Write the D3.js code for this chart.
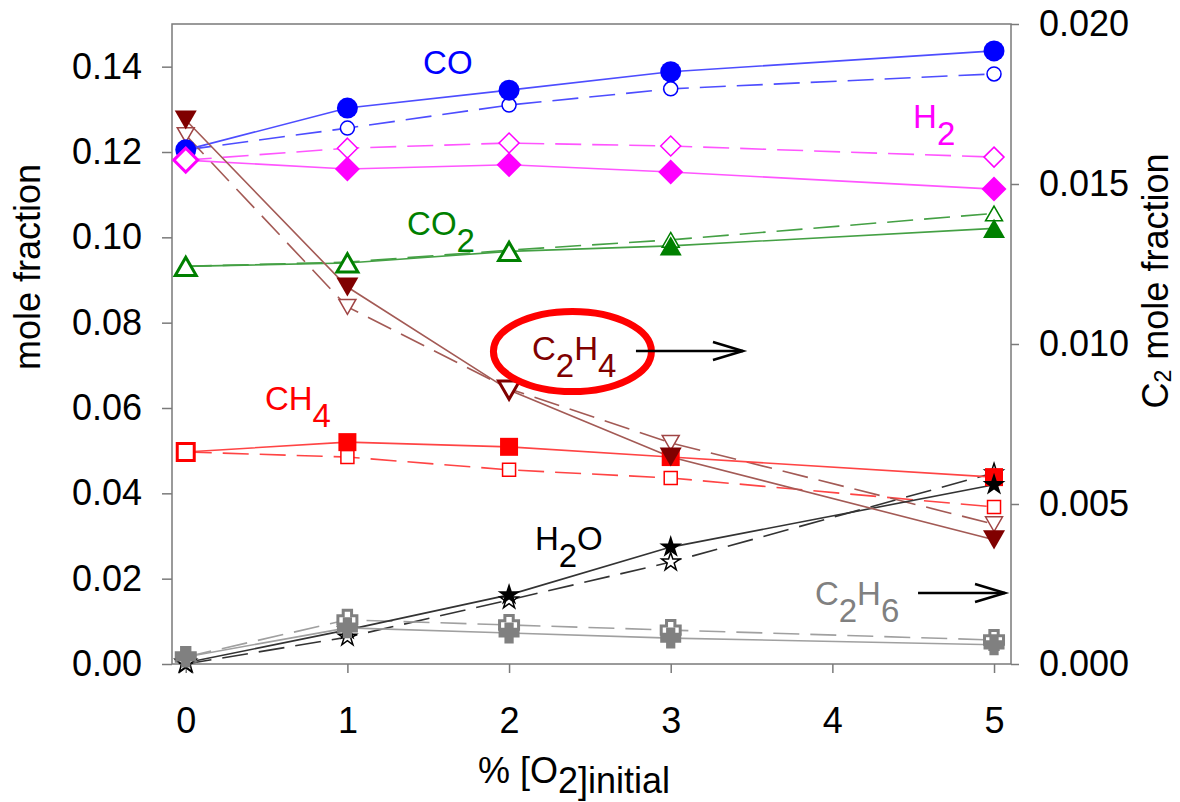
<!DOCTYPE html>
<html><head><meta charset="utf-8">
<script src="https://cdn.jsdelivr.net/npm/d3@7"></script>
<style>
body{margin:0;background:#fff}
text{font-family:"Liberation Sans",Arial,Helvetica,sans-serif}
</style>
</head><body>
<svg id="chart" width="1180" height="802"></svg>
<script>
// ---------------- DATA ----------------
const xValues = [0, 1, 2, 3, 5];
const xTicks = [0, 1, 2, 3, 4, 5];
const leftTicks = [0, 0.02, 0.04, 0.06, 0.08, 0.10, 0.12, 0.14];
const rightTicks = [0, 0.005, 0.010, 0.015, 0.020];

const coSolid   = [0.1205, 0.1303, 0.1345, 0.1388, 0.1437];
const coDashed  = [0.1205, 0.1256, 0.1310, 0.1348, 0.1383];
const h2Solid   = [0.1181, 0.1160, 0.1170, 0.1153, 0.1113];
const h2Dashed  = [0.1181, 0.1209, 0.1221, 0.1214, 0.1188];
const co2Solid  = [0.0932, 0.0940, 0.0967, 0.0980, 0.1021];
const co2Dashed = [0.0932, 0.0942, 0.0970, 0.0994, 0.1056];
const ch4Solid  = [0.0497, 0.0520, 0.0509, 0.0485, 0.0438];
const ch4Dashed = [0.0497, 0.0485, 0.0455, 0.0436, 0.0368];
const h2oSolid  = [0.0003, 0.0080, 0.0162, 0.0274, 0.0420];
const h2oDashed = [0.0000, 0.0063, 0.0150, 0.0239, 0.0448];
// C2 species on the right axis
const c2h4Solid  = [0.01700, 0.01178, 0.00856, 0.00647, 0.00388];
const c2h4Dashed = [0.01653, 0.01116, 0.00860, 0.00691, 0.00437];
const c2h6Solid  = [0.00022, 0.00113, 0.00097, 0.00081, 0.00060];
const c2h6Dashed = [0.00022, 0.00138, 0.00122, 0.00106, 0.00075];

const xTitle = ["% [O", "2]initial"];
const yLeftTitle = "mole fraction";
const yRightTitle = ["C", "2", " mole fraction"];

// ---------------- LAYOUT / STYLE ----------------
const plot = {left: 172, right: 1011, top: 24, bottom: 664};
const svg = d3.select("#chart");

const x = d3.scaleLinear().domain([-0.085, 5.105]).range([plot.left, plot.right]);
const yL = d3.scaleLinear().domain([0, 0.15]).range([plot.bottom, plot.top]);
const yR = d3.scaleLinear().domain([0, 0.020]).range([plot.bottom, plot.top]);

const series = [
  {vals: coDashed,  axis: yL, dash: true,  shape: "circle",  color: "#0000ff", line: "#4d4dff"},
  {vals: h2Dashed,  axis: yL, dash: true,  shape: "diamond", color: "#ff00ff", line: "#ff55ff"},
  {vals: co2Dashed, axis: yL, dash: true,  shape: "triUp",   color: "#008000", line: "#44a044"},
  {vals: ch4Dashed, axis: yL, dash: true,  shape: "square",  color: "#ff0000", line: "#ff4444"},
  {vals: h2oDashed, axis: yL, dash: true,  shape: "star",    color: "#000000", line: "#333333"},
  {vals: c2h4Dashed,axis: yR, dash: true,  shape: "triDown", color: "#a04545", line: "#a35a55"},
  {vals: c2h6Dashed,axis: yR, dash: true,  shape: "cross",   color: "#808080", line: "#a0a0a0"},
  {vals: coSolid,   axis: yL, dash: false, shape: "circle",  color: "#0000ff", line: "#4d4dff"},
  {vals: h2Solid,   axis: yL, dash: false, shape: "diamond", color: "#ff00ff", line: "#ff55ff", thick: [0]},
  {vals: co2Solid,  axis: yL, dash: false, shape: "triUp",   color: "#008000", line: "#44a044", thick: [0, 1, 2]},
  {vals: ch4Solid,  axis: yL, dash: false, shape: "square",  color: "#ff0000", line: "#ff4444", thick: [0]},
  {vals: h2oSolid,  axis: yL, dash: false, shape: "star",    color: "#000000", line: "#333333", thick: [0]},
  {vals: c2h4Solid, axis: yR, dash: false, shape: "triDown", color: "#800000", line: "#a35a55", thick: [2]},
  {vals: c2h6Solid, axis: yR, dash: false, shape: "cross",   color: "#808080", line: "#a0a0a0"},
];

function shapePath(shape, s) {
  const h = s / 2;
  switch (shape) {
    case "diamond": return `M0,${-h}L${h},0L0,${h}L${-h},0Z`;
    case "triUp": { const t = s * 0.87 / 2; return `M0,${-t}L${h},${t}L${-h},${t}Z`; }
    case "triDown": { const t = s * 0.87 / 2; return `M0,${t}L${h},${-t}L${-h},${-t}Z`; }
    case "square": return `M${-h},${-h}H${h}V${h}H${-h}Z`;
    case "star": { const ka = 0.8908130915292852; return d3.symbol().type(d3.symbolStar).size(h * h / ka)(); }
    case "cross": { const a = s * 0.22; return `M${-a},${-h}H${a}V${-a}H${h}V${a}H${a}V${h}H${-a}V${a}H${-h}V${-a}H${-a}Z`; }
  }
}
const sizes = {
  filled: {circle: 21, diamond: 25, triUp: 22, triDown: 22, square: 18, star: 24, cross: 21},
  open:   {circle: 14, diamond: 20, triUp: 17, triDown: 17, square: 13, star: 19, cross: 19},
  thick:  {circle: 20, diamond: 24, triUp: 21, triDown: 21, square: 17, star: 22, cross: 20}
};

// ---------------- AXES ----------------
const fontAxis = "36px";
const axisColor = "#7a7a7a";

function styleAxis(g) {
  g.selectAll("path.domain").remove();
  g.selectAll(".tick line").attr("stroke", axisColor).attr("stroke-width", 1.5);
  g.selectAll(".tick text").attr("fill", "#000").style("font-size", fontAxis)
    .style("font-family", '"Liberation Sans",Arial,sans-serif');
}
svg.append("g").attr("transform", `translate(${plot.left},0)`)
  .call(d3.axisLeft(yL).tickValues(leftTicks).tickFormat(d3.format(".2f")).tickSize(10).tickPadding(20).tickSizeOuter(0))
  .call(styleAxis);
svg.append("g").attr("transform", `translate(${plot.right},0)`)
  .call(d3.axisRight(yR).tickValues(rightTicks).tickFormat(d3.format(".3f")).tickSize(8).tickPadding(20).tickSizeOuter(0))
  .call(styleAxis);
svg.append("g").attr("transform", `translate(0,${plot.bottom})`)
  .call(d3.axisBottom(x).tickValues(xTicks).tickFormat(d3.format("d")).tickSize(9).tickPadding(34).tickSizeOuter(0))
  .call(styleAxis);

// frame
svg.append("rect").attr("x", plot.left).attr("y", plot.top)
  .attr("width", plot.right - plot.left).attr("height", plot.bottom - plot.top)
  .attr("fill", "none").attr("stroke", axisColor).attr("stroke-width", 1.5);

// axis titles
const xt = svg.append("text").attr("x", 478).attr("y", 783).style("font-size", fontAxis).attr("fill", "#000");
xt.append("tspan").text(xTitle[0]);
xt.append("tspan").attr("dy", 10).text(xTitle[1]);

svg.append("text").attr("transform", "translate(40,267) rotate(-90)")
  .attr("text-anchor", "middle").style("font-size", fontAxis).attr("fill", "#000").text(yLeftTitle);

const rt = svg.append("text").attr("transform", "translate(1168,281) rotate(-90)")
  .attr("text-anchor", "middle").style("font-size", fontAxis).attr("fill", "#000");
rt.append("tspan").text(yRightTitle[0]);
rt.append("tspan").attr("dy", 3).style("font-size", "23px").text(yRightTitle[1]);
rt.append("tspan").attr("dy", -3).text(yRightTitle[2]);

// ---------------- LINES ----------------
const gLines = svg.append("g");
series.forEach(s => {
  const line = d3.line().x((d, i) => x(xValues[i])).y(d => s.axis(d));
  gLines.append("path").datum(s.vals).attr("d", line)
    .attr("fill", "none").attr("stroke", s.line).attr("stroke-width", 1.6)
    .attr("stroke-dasharray", s.dash ? "26,11" : null);
});

// ---------------- MARKERS ----------------
const gMarks = svg.append("g");
series.forEach(s => {
  s.vals.forEach((v, i) => {
    const isThick = s.thick && s.thick.includes(i);
    const kind = s.dash ? "open" : (isThick ? "thick" : "filled");
    const size = sizes[kind][s.shape];
    const fill = kind === "filled" ? s.color : "#fff";
    let sw = kind === "thick" ? 3 : (kind === "open" ? (s.shape === "cross" ? 3 : 1.5) : 0);
    if (kind === "thick" && s.shape === "star") sw = 1.5;
    const px = x(xValues[i]), py = s.axis(v);
    let m;
    if (s.shape === "circle") {
      m = gMarks.append("circle").attr("cx", px).attr("cy", py).attr("r", size / 2);
    } else {
      m = gMarks.append("path").attr("transform", `translate(${px},${py})`).attr("d", shapePath(s.shape, size));
    }
    m.attr("fill", fill).attr("stroke", kind === "filled" ? "none" : s.color).attr("stroke-width", sw)
     .attr("stroke-linejoin", "miter");
  });
});

// ---------------- ANNOTATIONS ----------------
const labelFont = "33px";
const labels = [
  {parts: [["CO", 0]], x: 1.468, y: 0.1383, axis: yL, color: "#0000ff"},
  {parts: [["H", 0], ["2", 1]], x: 4.499, y: 0.1256, axis: yL, color: "#ff00ff"},
  {parts: [["CO", 0], ["2", 1]], x: 1.369, y: 0.1005, axis: yL, color: "#008000"},
  {parts: [["C", 0], ["2", 1], ["H", 0], ["4", 1]], x: 2.142, y: 0.0095, axis: yR, color: "#800000"},
  {parts: [["CH", 0], ["4", 1]], x: 0.490, y: 0.0595, axis: yL, color: "#ff0000"},
  {parts: [["H", 0], ["2", 1], ["O", 0]], x: 2.160, y: 0.0267, axis: yL, color: "#000000"},
  {parts: [["C", 0], ["2", 1], ["H", 0], ["6", 1]], x: 3.892, y: 0.00184, axis: yR, color: "#808080"},
];
labels.forEach(l => {
  const t = svg.append("text").attr("x", x(l.x)).attr("y", l.axis(l.y))
    .style("font-size", labelFont).attr("fill", l.color);
  let cur = 0;
  l.parts.forEach(([str, sub]) => {
    const target = sub ? 17 : 0;
    t.append("tspan").attr("dy", target - cur).text(str);
    cur = target;
  });
});

// red ellipse around C2H4
svg.append("ellipse").attr("cx", x(2.392)).attr("cy", yR(0.009766))
  .attr("rx", 79).attr("ry", 40).attr("fill", "none").attr("stroke", "#ff0000").attr("stroke-width", 7);

// arrows
function arrow(x1, x2, yv) {
  const X1 = x(x1), X2 = x(x2), Y = yR(yv);
  const g = svg.append("g").attr("stroke", "#000").attr("stroke-width", 2.5).attr("fill", "none");
  g.append("line").attr("x1", X1).attr("x2", X2).attr("y1", Y).attr("y2", Y);
  g.append("path").attr("d", `M${X2 - 30},${Y - 9}L${X2},${Y}L${X2 - 30},${Y + 9}`);
}
arrow(2.785, 3.447, 0.00978);
arrow(4.530, 5.068, 0.00222);
</script>
</body></html>
